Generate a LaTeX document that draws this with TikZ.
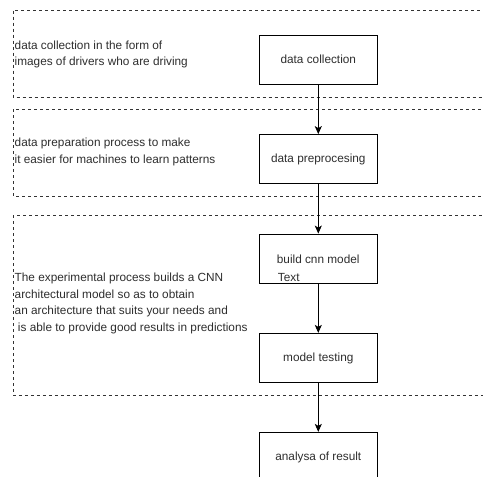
\documentclass[tikz,border=0pt]{standalone}
\usepackage{fontspec}
\setmainfont{Liberation Sans}
\usetikzlibrary{arrows.meta}
\begin{document}
\begin{tikzpicture}[x=1pt,y=-1pt,
  every node/.style={font=\fontsize{11.8}{16.5}\selectfont, text=black!82},
  lane/.style={draw=black!80, dash pattern=on 3pt off 3pt, line width=0.8pt},
  stepbox/.style={draw=black, line width=0.9pt, minimum width=118pt,
    minimum height=49.3pt, inner sep=0pt, fill=white},
  note/.style={anchor=west, align=left, inner sep=0pt},
  flow/.style={draw=black, line width=0.9pt,
    -{Stealth[length=8pt,width=7pt,inset=2pt]}}]
\useasboundingbox (0,0) rectangle (483,477);
\fill[white] (0,0) rectangle (483,477);
\clip (0,0) rectangle (483,477);

% swim lanes (open to the right)
\draw[lane] (13.3,10.7) rectangle (520,97.3);
\draw[lane] (13.3,109.3) rectangle (520,196.3);
\draw[lane] (13.3,215) rectangle (520,395.5);

% lane descriptions
\node[note] (n1) at (14.5,54.5) {data collection in the form of\\images of drivers who are driving};
\node[note] (n2) at (14.5,152) {data preparation process to make\\it easier for machines to learn patterns};
\node[note] (n3) at (14.5,303.5) {The experimental process builds a CNN\\architectural model so as to obtain\\an architecture that suits your needs and\\\ is able to provide good results in predictions};

% process steps
\node[stepbox] (collect) at (318.3,59.7) {data collection};
\node[stepbox] (prep) at (318.3,159.2) {data preprocesing};
\node[stepbox] (build) at (318.3,258.7) {};
\node[note] (buildlbl) at (276.7,259) {build cnn model};
\node[note] (buildtxt) at (277.7,277) {Text};
\node[stepbox] (test) at (318.3,358) {model testing};
\node[stepbox] (result) at (318.3,457) {analysa of result};

% flow
\draw[flow] (collect) -- (prep);
\draw[flow] (prep) -- (build);
\draw[flow] (build) -- (test);
\draw[flow] (test) -- (result);
\end{tikzpicture}
\end{document}
